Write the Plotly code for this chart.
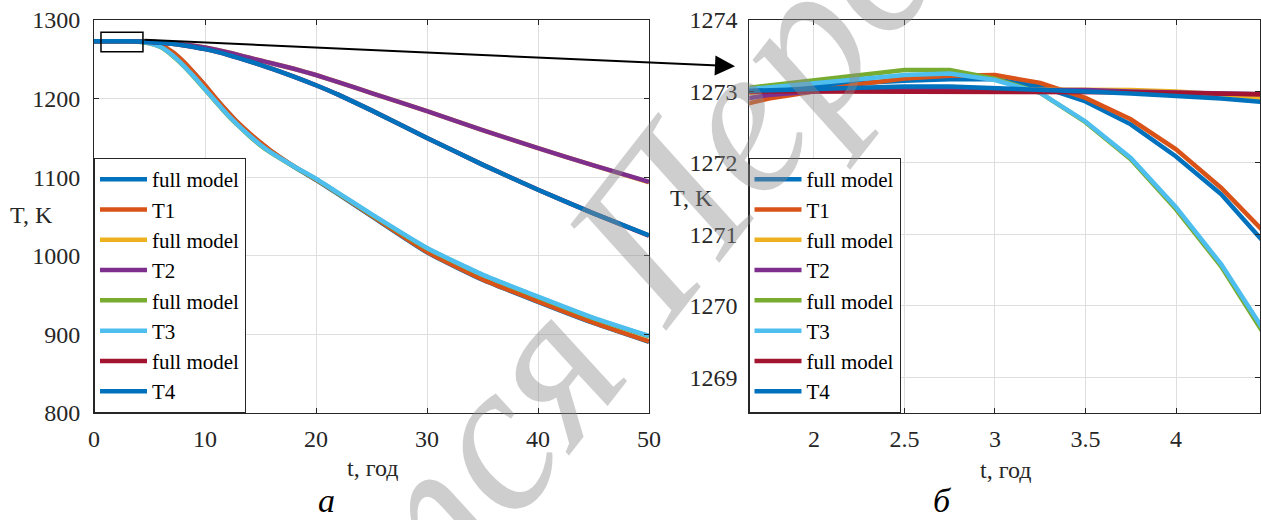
import plotly.graph_objects as go

W, H = 1261, 520

# ---------------- data ----------------
names = ["full model", "T1", "full model", "T2", "full model", "T3", "full model", "T4"]
colors = ["#0072BD", "#D95319", "#EDB120", "#7E2F8E", "#77AC30", "#4DBEEE", "#A2142F", "#0072BD"]

# panel a (0..50 years)
t_a = [0, 2, 4, 5, 6, 7, 8, 9, 10, 11, 12, 13, 14, 15, 16, 18, 20, 22, 25, 30, 35, 40, 45, 50]
full1_a = [1273, 1273, 1272.6, 1271.3, 1267.6, 1259.5, 1247.5, 1232.5, 1216.5, 1199.5, 1183.5, 1168.5, 1155.5, 1143.5, 1132.5, 1113.5, 1096.5, 1078.5, 1050.5, 1004.5, 969.5, 941.5, 914.5, 890.5]
T1_a = [1273, 1273, 1272.7, 1271.5, 1268, 1260, 1248, 1233, 1217, 1200, 1184, 1169, 1156, 1144, 1133, 1114, 1097, 1079, 1051, 1005, 970, 942, 915, 891]
full2_a = [1273, 1273, 1272.8, 1272.3, 1271.5, 1270.4, 1269, 1267.2, 1265, 1262.2, 1259, 1255.6, 1252, 1248.5, 1245, 1238, 1230, 1221, 1207, 1184, 1160, 1137, 1115, 1093.5]
T2_a = [1273, 1273, 1272.8, 1272.3, 1271.5, 1270.4, 1269, 1267.2, 1265, 1262.2, 1259, 1255.6, 1252, 1248.5, 1245, 1238, 1230, 1221, 1207, 1184, 1160, 1137, 1115, 1094]
full3_a = [1273, 1273, 1272.4, 1270.3, 1265.6, 1255.5, 1242.5, 1227.5, 1211.5, 1195.5, 1179.5, 1165.5, 1152.5, 1140.5, 1130.5, 1113.5, 1097.5, 1079.5, 1052.5, 1009.5, 975.5, 947.5, 920.5, 897.5]
T3_a = [1273, 1273, 1272.5, 1270.5, 1266, 1256, 1243, 1228, 1212, 1196, 1180, 1166, 1153, 1141, 1131, 1114, 1098, 1080, 1053, 1010, 976, 948, 921, 898]
full4_a = [1273, 1273, 1272.7, 1272, 1271, 1269.7, 1268, 1265.7, 1263, 1259.7, 1256, 1251.8, 1247.5, 1243, 1238, 1228, 1217, 1205, 1185, 1150, 1116, 1084, 1054, 1025.5]
T4_a = [1273, 1273, 1272.7, 1272, 1271, 1269.7, 1268, 1265.7, 1263, 1259.7, 1256, 1251.8, 1247.5, 1243, 1238, 1228, 1217, 1205, 1185, 1150, 1116, 1084, 1054, 1026]

# panel b (zoom)
t_b = [1.5, 1.75, 2, 2.25, 2.5, 2.75, 3, 3.25, 3.5, 3.75, 4, 4.25, 4.5]
full1_b = [1272.95, 1273.02, 1273.07, 1273.12, 1273.15, 1273.17, 1273.17, 1273.07, 1272.86, 1272.54, 1272.09, 1271.56, 1270.85]
T1_b = [1272.75, 1272.9, 1273.0, 1273.10, 1273.18, 1273.22, 1273.23, 1273.12, 1272.91, 1272.61, 1272.19, 1271.65, 1271.0]
full2_b = [1272.95, 1273.0, 1273.02, 1273.03, 1273.03, 1273.03, 1273.03, 1273.03, 1273.03, 1273.02, 1273.0, 1272.96, 1272.9]
T2_b = [1272.85, 1272.95, 1273.0, 1273.02, 1273.02, 1273.02, 1273.02, 1273.02, 1273.02, 1273.0, 1272.99, 1272.97, 1272.96]
full3_b = [1273.01, 1273.08, 1273.15, 1273.23, 1273.30, 1273.30, 1273.18, 1272.98, 1272.57, 1272.05, 1271.35, 1270.55, 1269.55]
T3_b = [1273.0, 1273.06, 1273.12, 1273.18, 1273.23, 1273.25, 1273.16, 1272.98, 1272.58, 1272.07, 1271.38, 1270.58, 1269.6]
full4_b = [1272.98, 1273.0, 1273.0, 1273.0, 1273.0, 1273.0, 1273.0, 1273.0, 1273.0, 1272.99, 1272.98, 1272.97, 1272.96]
T4_b = [1273.0, 1273.02, 1273.04, 1273.06, 1273.07, 1273.07, 1273.05, 1273.03, 1273.0, 1272.97, 1272.94, 1272.9, 1272.85]

series_a = [full1_a, T1_a, full2_a, T2_a, full3_a, T3_a, full4_a, T4_a]
series_b = [full1_b, T1_b, full2_b, T2_b, full3_b, T3_b, full4_b, T4_b]

xticks_a = [0, 10, 20, 30, 40, 50]
yticks_a = [800, 900, 1000, 1100, 1200, 1300]
xticks_b = [2, 2.5, 3, 3.5, 4]
xticklabels_b = ["2", "2.5", "3", "3.5", "4"]
yticks_b = [1269, 1270, 1271, 1272, 1273, 1274]

# ---------------- layout helpers ----------------
def px(x):
    return x / W

def py(y):
    return 1 - y / H

FONT = "Liberation Serif"
AX = "#262626"
GRID = "#dfdfdf"
LW = 4.5

fig = go.Figure()
for i, (nm, c) in enumerate(zip(names, colors)):
    fig.add_trace(go.Scatter(x=t_a, y=series_a[i], mode="lines", name=nm,
                             line=dict(color=c, width=LW, shape="spline", smoothing=0.5),
                             legend="legend", xaxis="x", yaxis="y"))
for i, (nm, c) in enumerate(zip(names, colors)):
    fig.add_trace(go.Scatter(x=t_b, y=series_b[i], mode="lines", name=nm,
                             line=dict(color=c, width=LW),
                             legend="legend2", xaxis="x2", yaxis="y2"))

axis_common = dict(showline=True, linecolor=AX, linewidth=1, mirror="ticks",
                   ticks="inside", ticklen=5, tickcolor=AX, showgrid=True,
                   gridcolor=GRID, gridwidth=1, zeroline=False,
                   tickfont=dict(family=FONT, size=24, color=AX), automargin=False)

legend_common = dict(xanchor="left", yanchor="bottom",
                     bgcolor="white", bordercolor=AX, borderwidth=1,
                     font=dict(family=FONT, size=21, color="black"),
                     itemwidth=47, tracegroupgap=0)

fig.update_layout(
    width=W, height=H,
    margin=dict(l=0, r=0, t=0, b=0),
    paper_bgcolor="white", plot_bgcolor="white",
    showlegend=True,
    font=dict(family=FONT),
    xaxis=dict(domain=[px(94), px(649)], range=[0, 50], tickvals=xticks_a,
               anchor="y", ticklabelstandoff=4, **axis_common),
    yaxis=dict(domain=[py(413), py(20)], range=[800, 1300], tickvals=yticks_a,
               anchor="x", ticklabelstandoff=8, **axis_common),
    xaxis2=dict(domain=[px(749.3), px(1260)], range=[1.643, 4.464], tickvals=xticks_b,
                ticktext=xticklabels_b, anchor="y2", ticklabelstandoff=4, **axis_common),
    yaxis2=dict(domain=[py(413), py(20)], range=[1268.5, 1274], tickvals=yticks_b,
                anchor="x2", ticklabelstandoff=6, **axis_common),
    legend=dict(x=px(94), y=py(413), **legend_common),
    legend2=dict(x=px(748.5), y=py(413), **legend_common),
)

# zoom rectangle on panel a
fig.add_shape(type="rect", xref="x", yref="y", x0=0.63, x1=4.41, y0=1259.7, y1=1284.4,
              line=dict(color="black", width=1.5), fillcolor="rgba(0,0,0,0)")

anns = []
# arrow
anns.append(dict(x=px(735), y=py(66.3), xref="paper", yref="paper", text="",
                 showarrow=True, ax=-592, ay=-26.5, axref="pixel", ayref="pixel",
                 arrowhead=2, arrowsize=2, arrowwidth=2, arrowcolor="black", standoff=0))
# axis titles
for (x, y, txt) in [(31, 215, "T, K"), (691, 198, "T, K"), (372, 468, "t, год"), (1005, 470, "t, год")]:
    anns.append(dict(x=px(x), y=py(y), xref="paper", yref="paper", text=txt, showarrow=False,
                     xanchor="center", yanchor="middle", font=dict(family=FONT, size=24, color=AX)))
# panel labels
for (x, y, txt) in [(326, 500, "а"), (942, 500, "б")]:
    anns.append(dict(x=px(x), y=py(y), xref="paper", yref="paper", text="<i>" + txt + "</i>",
                     showarrow=False, xanchor="center", yanchor="middle",
                     font=dict(family=FONT, size=34, color="black")))
# watermark
anns.append(dict(x=px(625), y=py(265), xref="paper", yref="paper", text="<i>тся Пере</i>",
                 showarrow=False, xanchor="center", yanchor="middle", textangle=-52,
                 opacity=0.42, font=dict(family=FONT, size=215, color="#8c8c8c")))
fig.update_layout(annotations=anns)

fig.write_html("out.html")
